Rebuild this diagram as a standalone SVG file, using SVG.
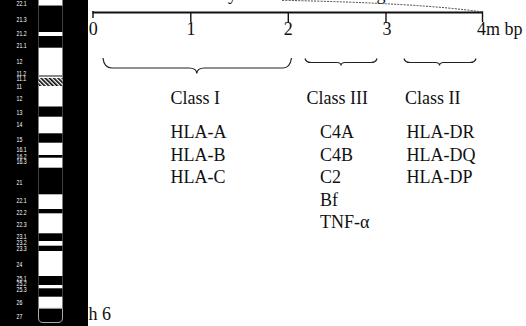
<svg xmlns="http://www.w3.org/2000/svg" width="526" height="326" viewBox="0 0 526 326">
  <style>
    .serif { font-family: "Liberation Serif", "Times New Roman", serif; font-size: 18px; fill: #111; }
    .band-label { font-family: "Liberation Sans", Arial, sans-serif; font-size: 6.5px; fill: #fff; }
    .brace { fill: none; stroke: #222; stroke-width: 1.2; }
    .axis { stroke: #111; stroke-width: 2; fill: none; }
    .tick { stroke: #111; stroke-width: 1.4; }
  </style>
  <defs>
    <pattern id="hatch" patternUnits="userSpaceOnUse" width="3" height="3" patternTransform="rotate(-45)">
      <rect x="0" y="0" width="3" height="3" fill="#fff"/>
      <rect x="0" y="0" width="1.6" height="3" fill="#000"/>
    </pattern>
  </defs>

  <rect width="526" height="326" fill="#fff"/>

  <!-- ideogram panel of chromosome 6 -->
  <g id="ideogram">
    <rect x="0" y="0" width="88" height="326" fill="#000"/>
    <rect x="38.5" y="0" width="24" height="310" fill="#fff"/>
    <line x1="38.5" y1="5.5" x2="62.5" y2="5.5" stroke="#888" stroke-width="1"/>
    <rect x="38.5" y="6" width="24" height="26" fill="#000"/>
    <rect x="38.5" y="36" width="24" height="11.7" fill="#000"/>
    <rect x="38.5" y="75" width="24" height="2" fill="#888"/>
    <rect x="38.5" y="78" width="24" height="8" fill="url(#hatch)"/>
    <rect x="38.5" y="106.5" width="24" height="10.2" fill="#000"/>
    <rect x="38.5" y="133.3" width="24" height="9.4" fill="#000"/>
    <rect x="38.5" y="155" width="24" height="2.7" fill="#000"/>
    <rect x="38.5" y="167.7" width="24" height="26.6" fill="#000"/>
    <rect x="38.5" y="209" width="24" height="4.3" fill="#000"/>
    <rect x="38.5" y="233.3" width="24" height="7.7" fill="#000"/>
    <rect x="38.5" y="245.7" width="24" height="5.3" fill="#000"/>
    <rect x="38.5" y="276" width="24" height="9" fill="#000"/>
    <rect x="38.5" y="288.3" width="24" height="8.4" fill="#000"/>
    <path d="M38.5 308.3 V318 Q38.5 322.5 43 322.5 H58 Q62.5 322.5 62.5 318 V308.3 Z" fill="#000" stroke="#aaa" stroke-width="1"/>

    <g transform="translate(16.5,0) scale(0.8,1)">
      <text class="band-label" x="0" y="6.3">22.1</text>
      <text class="band-label" x="0" y="22.3">21.3</text>
      <text class="band-label" x="0" y="36.3">21.2</text>
      <text class="band-label" x="0" y="48.3">21.1</text>
      <text class="band-label" x="0" y="64.3">12</text>
      <text class="band-label" x="0" y="75.8">11.2</text>
      <text class="band-label" x="0" y="80.8">11.1</text>
      <text class="band-label" x="0" y="89">11</text>
      <text class="band-label" x="0" y="101.3">12</text>
      <text class="band-label" x="0" y="114.6">13</text>
      <text class="band-label" x="0" y="127.3">14</text>
      <text class="band-label" x="0" y="142.3">15</text>
      <text class="band-label" x="0" y="152.3">16.1</text>
      <text class="band-label" x="0" y="159">16.2</text>
      <text class="band-label" x="0" y="164">16.3</text>
      <text class="band-label" x="0" y="185">21</text>
      <text class="band-label" x="0" y="203.3">22.1</text>
      <text class="band-label" x="0" y="214.6">22.2</text>
      <text class="band-label" x="0" y="227.3">22.3</text>
      <text class="band-label" x="0" y="239">23.1</text>
      <text class="band-label" x="0" y="245">23.2</text>
      <text class="band-label" x="0" y="250.6">23.3</text>
      <text class="band-label" x="0" y="267.3">24</text>
      <text class="band-label" x="0" y="280.6">25.1</text>
      <text class="band-label" x="0" y="285.6">25.2</text>
      <text class="band-label" x="0" y="291.6">25.3</text>
      <text class="band-label" x="0" y="304.6">26</text>
      <text class="band-label" x="0" y="319">27</text>
    </g>
  </g>

  <g id="caption">
    <text class="serif" x="88.5" y="320">h 6</text>
  </g>

  <!-- descenders of the heading line above -->
  <g id="heading-tail">
    <text class="serif" x="228" y="-0.5">y</text>
    <text class="serif" x="376.5" y="-0.5">g</text>
  </g>

  <!-- megabase scale -->
  <g id="scale">
    <path class="axis" d="M92.5 12.5 H483"/>
    <line class="tick" x1="93" y1="11" x2="93" y2="18"/>
    <line class="tick" x1="190.8" y1="12.5" x2="190.8" y2="22.5"/>
    <line class="tick" x1="288.3" y1="12.5" x2="288.3" y2="22.5"/>
    <line class="tick" x1="386" y1="12.5" x2="386" y2="22.5"/>
    <line class="tick" x1="482.5" y1="11.5" x2="482.5" y2="22"/>
    <text class="serif" x="93.3" y="35" text-anchor="middle">0</text>
    <text class="serif" x="191" y="35" text-anchor="middle">1</text>
    <text class="serif" x="288.3" y="35" text-anchor="middle">2</text>
    <text class="serif" x="387" y="35" text-anchor="middle">3</text>
    <text class="serif" x="477" y="35">4m bp</text>
  </g>

  <g id="connectors">
    <path d="M282 0.3 Q420 3 482.5 12" fill="none" stroke="#444" stroke-width="1" stroke-dasharray="2,1.2"/>
    <path class="brace" d="M103 58 Q104 68 112 68 H189 Q196.5 68 196.8 73.5 Q197.1 68 204.5 68 H283 Q290 68 291.5 58"/>
    <path class="brace" d="M305 58.5 Q306 62.5 311 62.5 H337 Q340.8 62.5 341 65.5 Q341.2 62.5 345 62.5 H371 Q376 62.5 377 58.5"/>
    <path class="brace" d="M404 58.5 Q405 62.5 410 62.5 H435.5 Q439.3 62.5 439.5 65.5 Q439.7 62.5 443.5 62.5 H470 Q475 62.5 476 58.5"/>
  </g>

  <g id="class-I">
    <text class="serif" x="170.5" y="103.5">Class I</text>
    <text class="serif" x="170.5" y="138.3">HLA-A</text>
    <text class="serif" x="170.5" y="160.8">HLA-B</text>
    <text class="serif" x="170.5" y="183.3">HLA-C</text>
  </g>

  <g id="class-III">
    <text class="serif" x="306.5" y="103.5">Class III</text>
    <text class="serif" x="320" y="138.3">C4A</text>
    <text class="serif" x="320" y="160.8">C4B</text>
    <text class="serif" x="320" y="183.3">C2</text>
    <text class="serif" x="320" y="205.8">Bf</text>
    <text class="serif" x="320" y="228.3">TNF-α</text>
  </g>

  <g id="class-II">
    <text class="serif" x="405" y="103.5">Class II</text>
    <text class="serif" x="406.5" y="138.3">HLA-DR</text>
    <text class="serif" x="406.5" y="160.8">HLA-DQ</text>
    <text class="serif" x="406.5" y="183.3">HLA-DP</text>
  </g>
</svg>
